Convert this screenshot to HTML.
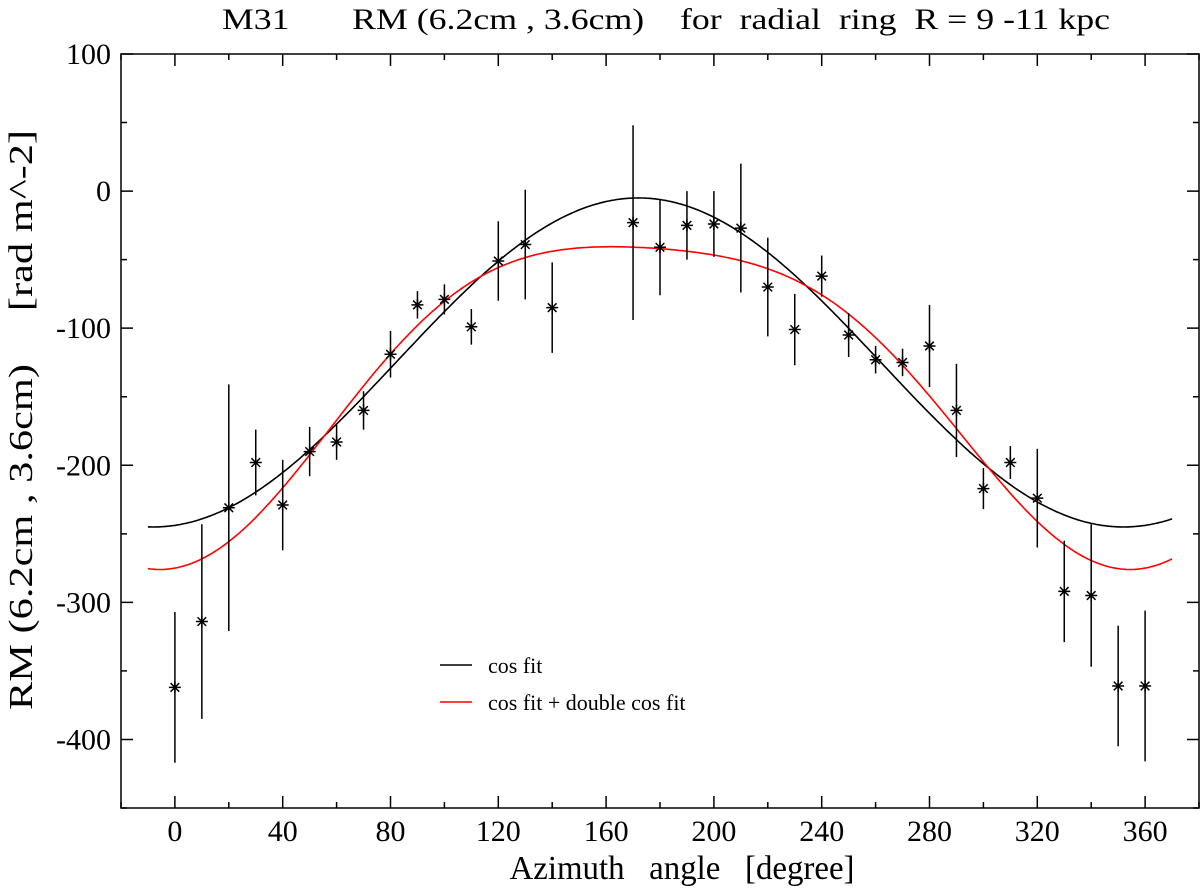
<!DOCTYPE html>
<html><head><meta charset="utf-8"><style>
body{margin:0;background:#fff;}
svg text{font-family:"Liberation Serif","DejaVu Serif",serif;fill:#000;}
</style></head><body>
<svg id="chart" width="1200" height="889" xmlns="http://www.w3.org/2000/svg">
<text x="666" y="29" font-size="30" text-anchor="middle" textLength="888" lengthAdjust="spacingAndGlyphs" xml:space="preserve">M31       RM (6.2cm , 3.6cm)    for  radial  ring  R = 9 -11 kpc</text>
<g id="axes"></g><g id="curves"></g><g id="points"></g>
<text x="682" y="879" font-size="34" text-anchor="middle" textLength="345" lengthAdjust="spacingAndGlyphs" xml:space="preserve">Azimuth   angle   [degree]</text>
<text transform="translate(32,420) rotate(-90)" font-size="34" text-anchor="middle" textLength="580" lengthAdjust="spacingAndGlyphs" xml:space="preserve">RM (6.2cm , 3.6cm)     [rad m^-2]</text>
<g>
<line x1="440" y1="665" x2="472" y2="665" stroke="#000" stroke-width="1.5"/>
<text x="488" y="673" font-size="22">cos fit</text>
<line x1="440" y1="702" x2="472" y2="702" stroke="#f00" stroke-width="1.5"/>
<text x="488" y="710" font-size="22">cos fit + double cos fit</text>
</g>
</svg>
<script>
const azimuth=[0,10,20,30,40,50,60,70,80,90,100,110,120,130,140,170,180,190,200,210,220,230,240,250,260,270,280,290,300,310,320,330,340,350,360];
const rmValues=[-362,-314,-231,-198,-229,-190,-183,-160,-119,-83,-79,-99,-51,-39,-85,-23,-41,-25,-24,-27,-70,-101,-62,-105,-123,-125,-113,-160,-217,-198,-224,-292,-295,-361,-361];
const rmErrors=[55,71,90,24,33,18,13,14,17,10,11,13,29,40,33,71,35,25,24,47,36,26,15,16,10,10,30,34,15,12,36,37,52,44,55];
const cosFitParams=[-125,120,172]; // offset, amplitude, phase(deg)
const doubleCosParams=[-135.5,-116.5,14.5,-23,3]; // a, b1, b2, c1, c2
const xTicks=[0,40,80,120,160,200,240,280,320,360];
const yTicks=[100,0,-100,-200,-300,-400];
const X0=121,X1=1199,Y0=54,Y1=808,xmin=-20,xmax=380,ymin=-450,ymax=100;
const sx=v=>X0+(v-xmin)/(xmax-xmin)*(X1-X0);
const sy=v=>Y1-(v-ymin)/(ymax-ymin)*(Y1-Y0);
const NS="http://www.w3.org/2000/svg";
function mk(parent,tag,attrs){const e=document.createElementNS(NS,tag);for(const k in attrs)e.setAttribute(k,attrs[k]);parent.appendChild(e);return e;}
const axes=document.getElementById('axes');
const frame=mk(axes,'rect',{x:X0,y:Y0,width:X1-X0,height:Y1-Y0,fill:'none',stroke:'#000','stroke-width':1.5});


for(let v=-20;v<=380;v+=20){const major=xTicks.includes(v);const L=major?12:6;const x=sx(v);
 const t=mk(axes,'path',{d:`M${x},${Y1}v${-L}M${x},${Y0}v${L}`,stroke:'#000','stroke-width':1.5});
 
 }
xTicks.forEach(v=>{const t=mk(axes,'text',{x:sx(v),y:Y1+33,'font-size':30,'text-anchor':'middle'});t.textContent=v;
 
 });
for(let v=-450;v<=100;v+=50){const major=yTicks.includes(v);const L=major?12:6;const y=sy(v);
 const t=mk(axes,'path',{d:`M${X0},${y}h${L}M${X1},${y}h${-L}`,stroke:'#000','stroke-width':1.5});
 
 }
yTicks.forEach(v=>{const t=mk(axes,'text',{x:X0-10,y:sy(v)+10,'font-size':30,'text-anchor':'end'});t.textContent=v;
 
 });
const curves=document.getElementById('curves');
const r=Math.PI/180;
const f1=t=>cosFitParams[0]+cosFitParams[1]*Math.cos((t-cosFitParams[2])*r);
const p=doubleCosParams;
const f2=t=>p[0]+p[1]*Math.cos(t*r)+p[2]*Math.sin(t*r)+p[3]*Math.cos(2*t*r)+p[4]*Math.sin(2*t*r);
function curve(f,col,name){let d='';for(let t=-10;t<=370;t+=1)d+=(t==-10?'M':'L')+sx(t).toFixed(1)+','+sy(f(t)).toFixed(1);
 const e=mk(curves,'path',{d,fill:'none',stroke:col,'stroke-width':1.6});
 
 }
curve(f1,'#000','cos-fit-curve');
curve(f2,'#f00','double-cos-fit-curve');
const pts=document.getElementById('points');
azimuth.forEach((a,i)=>{const x=sx(a),y=sy(rmValues[i]);
 const eb=mk(pts,'line',{x1:x,x2:x,y1:sy(rmValues[i]+rmErrors[i]),y2:sy(rmValues[i]-rmErrors[i]),stroke:'#000','stroke-width':1.5});
 
 
 const s=6;
 const m=mk(pts,'path',{d:`M${x-s},${y}h${2*s}M${x},${y-s}v${2*s}M${x-s*0.72},${y-s*0.72}l${s*1.44},${s*1.44}M${x-s*0.72},${y+s*0.72}l${s*1.44},${-s*1.44}`,stroke:'#000','stroke-width':1.5});
 
 });
</script>
</body></html>
